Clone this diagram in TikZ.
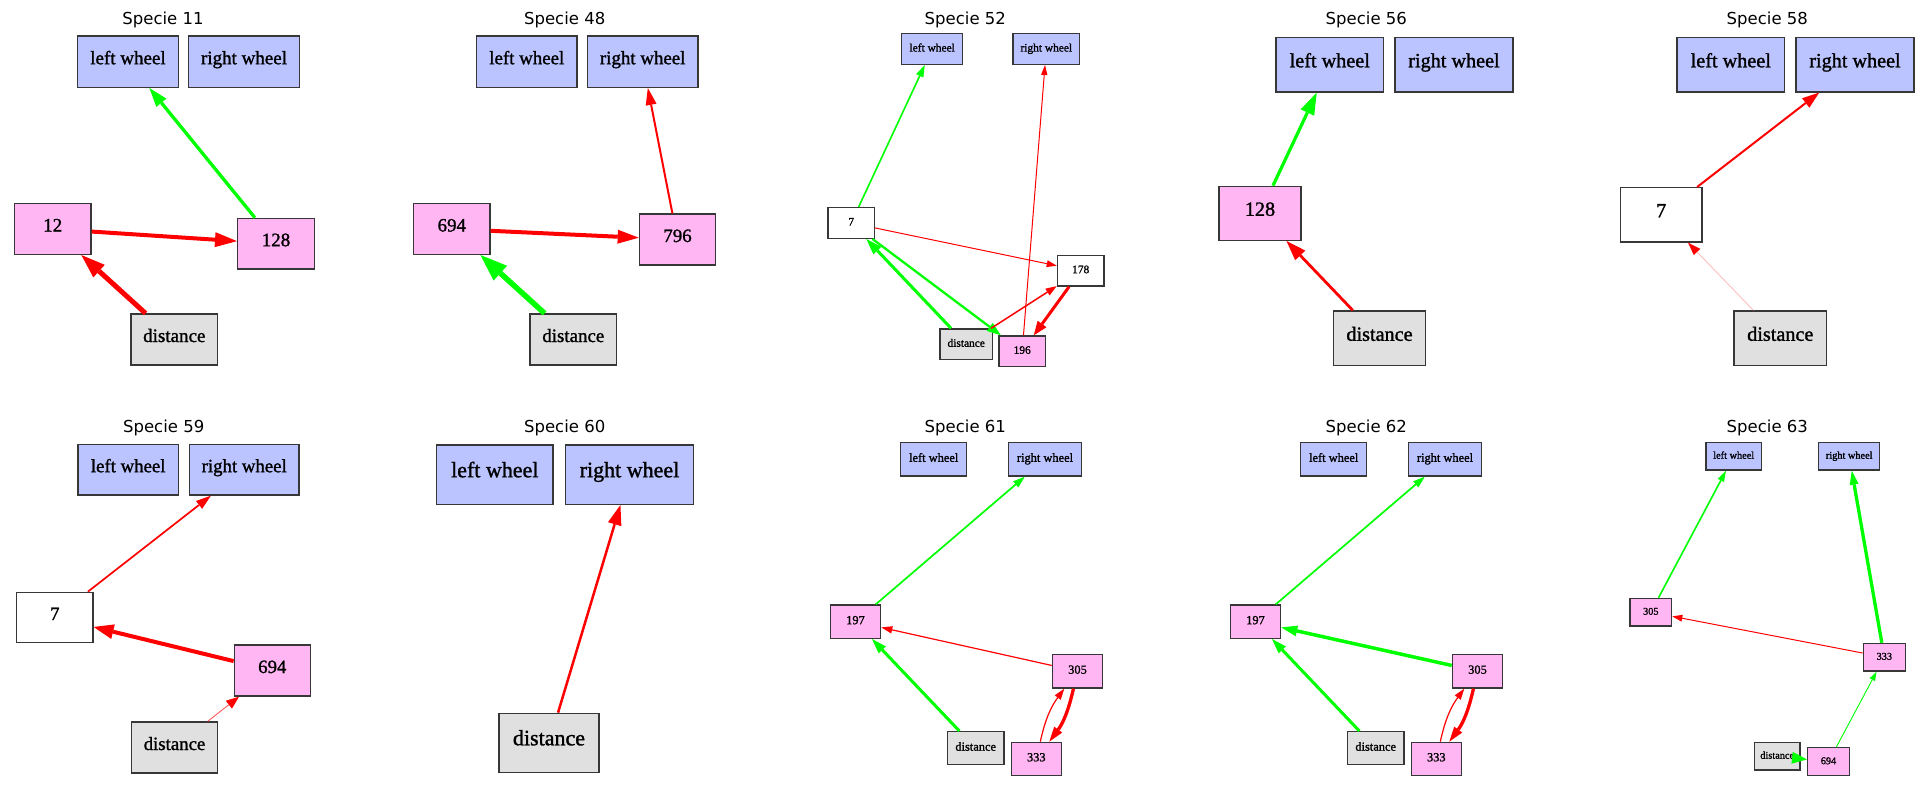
\documentclass[tikz,border=0pt]{standalone}
\usepackage{fontspec}
\setmainfont{Liberation Serif}
\newfontfamily\nodefont{Liberation Serif}[FakeBold=1.3]
\newfontfamily\titlefont{DejaVu Sans}
\usetikzlibrary{arrows.meta}
\definecolor{wheelfill}{RGB}{187,196,255}
\definecolor{hidfill}{RGB}{255,182,243}
\definecolor{sensfill}{RGB}{224,224,224}
\definecolor{boxline}{RGB}{55,55,55}
\begin{document}
\begin{tikzpicture}[x=1pt,y=-1pt,
  box/.style={draw=boxline, line width=1.3pt, inner sep=0pt, text height=0.7em, text depth=0.2em},
  wheel/.style={box, fill=wheelfill},
  hid/.style={box, fill=hidfill},
  wht/.style={box, fill=white},
  sens/.style={box, fill=sensfill},
  sz/.style 2 args={minimum width=#1pt, minimum height=#2pt},
  fs/.style={font=\nodefont\fontsize{#1}{#1}\selectfont},
  ttl/.style={font=\titlefont\fontsize{16.5}{16.5}\selectfont, inner sep=0pt, anchor=base},
  ar/.style n args={4}{draw=#1, line width=#2pt, -{Triangle[length=#3pt,width=#4pt,line width=0pt]}},
  palear/.style n args={4}{draw=#1, line width=#2pt, -{Triangle[length=#3pt,width=#4pt,line width=0pt,color=red]}},
]
\fill[white] (0,0) rectangle (1930,789);
\useasboundingbox (0,0) rectangle (1930,789);

% ---------- Specie 11 ----------
\node[ttl] (t11) at (163,24.3) {Specie 11};
\begin{scope}[fs=19]
\node[wheel, sz={100.7}{51.3}] (p11lw) at (128,61.7) {left wheel};
\node[wheel, sz={110.7}{51.3}] (p11rw) at (244,61.7) {right wheel};
\node[hid, sz={76.7}{50.7}] (p11n12) at (52.7,229) {12};
\node[hid, sz={76.7}{50.7}] (p11n128) at (276,243.7) {128};
\node[sens, sz={86.7}{51}] (p11d) at (174.3,339.5) {distance};
\end{scope}
\draw[ar={green}{3.3}{19}{13}] (p11n128) -- (p11lw);
\draw[ar={red}{4}{22}{15}] (p11n12) -- (p11n128);
\draw[ar={red}{5}{24}{17}] (p11d) -- (p11n12);

% ---------- Specie 48 ----------
\node[ttl] (t48) at (564.7,24.3) {Specie 48};
\begin{scope}[fs=18.9]
\node[wheel, sz={100.3}{51.3}] (p48lw) at (526.8,61.7) {left wheel};
\node[wheel, sz={110.7}{51.3}] (p48rw) at (642.7,61.7) {right wheel};
\node[hid, sz={76.3}{50.7}] (p48n694) at (451.8,229) {694};
\node[hid, sz={76.3}{51}] (p48n796) at (677.5,239.5) {796};
\node[sens, sz={86.7}{51}] (p48d) at (573.3,339.5) {distance};
\end{scope}
\draw[ar={red}{2}{17}{11}] (p48n796) -- (p48rw);
\draw[ar={red}{4}{21}{14}] (p48n694) -- (p48n796);
\draw[ar={green}{5.5}{27}{20}] (p48d) -- (p48n694);

% ---------- Specie 52 ----------
\node[ttl] (t52) at (965.3,24.3) {Specie 52};
\begin{scope}[fs=11.4]
\node[wheel, sz={61}{30.7}] (p52lw) at (932.2,49) {left wheel};
\node[wheel, sz={66.7}{30.7}] (p52rw) at (1046.3,49) {right wheel};
\node[wht, sz={46.3}{30.7}] (p52n7) at (851.2,223) {7};
\node[wht, sz={46.7}{30.7}] (p52n178) at (1080.7,270.7) {178};
\node[sens, sz={52.3}{30.7}] (p52d) at (966.2,344.3) {distance};
\node[hid, sz={46.3}{30.7}] (p52n196) at (1022.2,351.3) {196};
\end{scope}
\draw[ar={green}{1.6}{12}{8}] (p52n7) -- (p52lw);
\draw[ar={red}{1}{10}{6.5}] (p52n196) -- (p52rw);
\draw[ar={red}{1}{10}{7}] (p52n7) -- (p52n178);
\draw[ar={green}{3}{16}{11}] (p52d) -- (p52n7);
\draw[ar={green}{2.3}{14}{10}] (p52n7) -- (p52n196);
\draw[ar={red}{1.5}{11}{8}] (p52d) -- (p52n178);
\draw[ar={red}{3}{14}{11}] (p52n178) -- (p52n196);

% ---------- Specie 56 ----------
\node[ttl] (t56) at (1366.3,24.3) {Specie 56};
\begin{scope}[fs=20.2]
\node[wheel, sz={107.7}{54.3}] (p56lw) at (1329.8,64.8) {left wheel};
\node[wheel, sz={118}{54.3}] (p56rw) at (1454,64.8) {right wheel};
\node[hid, sz={82}{54}] (p56n128) at (1260,213.3) {128};
\node[sens, sz={92.3}{54.7}] (p56d) at (1379.5,338.3) {distance};
\end{scope}
\draw[ar={green}{3.2}{22}{15}] (p56n128) -- (p56lw);
\draw[ar={red}{2.8}{20}{14}] (p56d) -- (p56n128);

% ---------- Specie 58 ----------
\node[ttl] (t58) at (1767.3,24.3) {Specie 58};
\begin{scope}[fs=20.2]
\node[wheel, sz={107.7}{54.3}] (p58lw) at (1730.8,64.8) {left wheel};
\node[wheel, sz={118}{54.3}] (p58rw) at (1855,64.8) {right wheel};
\node[wht, sz={81.7}{54.3}] (p58n7) at (1661.2,214.8) {7};
\node[sens, sz={92.7}{54.7}] (p58d) at (1780.3,338.3) {distance};
\end{scope}
\draw[ar={red}{2}{17}{12}] (p58n7) -- (p58rw);
\draw[palear={red!30}{0.7}{13}{9}] (p58d) -- (p58n7);

% ---------- Specie 59 ----------
\node[ttl] (t59) at (163.7,432.7) {Specie 59};
\begin{scope}[fs=18.8]
\node[wheel, sz={100.3}{50.7}] (p59lw) at (128.2,469.7) {left wheel};
\node[wheel, sz={109.7}{50.7}] (p59rw) at (244.2,469.7) {right wheel};
\node[wht, sz={76.3}{50.3}] (p59n7) at (54.8,617.5) {7};
\node[hid, sz={76}{51}] (p59n694) at (272.3,670.5) {694};
\node[sens, sz={85.7}{51}] (p59d) at (174.5,747.5) {distance};
\end{scope}
\draw[ar={red}{1.7}{15}{10}] (p59n7) -- (p59rw);
\draw[ar={red}{4}{20}{15}] (p59n694) -- (p59n7);
\draw[palear={red!65}{0.9}{13}{10}] (p59d) -- (p59n694);

% ---------- Specie 60 ----------
\node[ttl] (t60) at (564.7,432.7) {Specie 60};
\begin{scope}[fs=22]
\node[wheel, sz={116.3}{59.3}] (p60lw) at (494.8,474.7) {left wheel};
\node[wheel, sz={127.7}{59.3}] (p60rw) at (629.5,474.7) {right wheel};
\node[sens, sz={100}{59}] (p60d) at (549,742.8) {distance};
\end{scope}
\draw[ar={red}{2.5}{20}{14}] (p60d) -- (p60rw);

% ---------- Specie 61 ----------
\node[ttl] (t61) at (965.3,432.7) {Specie 61};
\begin{scope}[fs=12.4]
\node[wheel, sz={66}{33.3}] (p61lw) at (933.7,459.3) {left wheel};
\node[wheel, sz={72.7}{33.3}] (p61rw) at (1045,459.3) {right wheel};
\node[hid, sz={50.3}{33.3}] (p61n197) at (855.5,621.7) {197};
\node[hid, sz={50.3}{33.7}] (p61n305) at (1077.5,671.2) {305};
\node[sens, sz={56.7}{33}] (p61d) at (975.7,748.2) {distance};
\node[hid, sz={50}{33}] (p61n333) at (1036.3,758.8) {333};
\end{scope}
\draw[ar={green}{1.7}{12}{8}] (p61n197) -- (p61rw);
\draw[ar={red}{1.2}{11}{7.5}] (p61n305) -- (p61n197);
\draw[ar={green}{3}{15}{10}] (p61d) -- (p61n197);
\draw[ar={red}{1.2}{11}{7.5}] (p61n333) to[bend left=12] (p61n305);
\draw[ar={red}{3.3}{15}{10}] (p61n305) to[bend left=12] (p61n333);

% ---------- Specie 62 ----------
\node[ttl] (t62) at (1366.3,432.7) {Specie 62};
\begin{scope}[fs=12.4]
\node[wheel, sz={66}{33.3}] (p62lw) at (1333.7,459.3) {left wheel};
\node[wheel, sz={72.7}{33.3}] (p62rw) at (1445,459.3) {right wheel};
\node[hid, sz={50.3}{33.3}] (p62n197) at (1255.5,621.7) {197};
\node[hid, sz={50.3}{33.7}] (p62n305) at (1477.5,671.2) {305};
\node[sens, sz={56.7}{33}] (p62d) at (1375.7,748.2) {distance};
\node[hid, sz={50}{33}] (p62n333) at (1436.3,758.8) {333};
\end{scope}
\draw[ar={green}{1.7}{12}{8}] (p62n197) -- (p62rw);
\draw[ar={green}{3.5}{16}{11}] (p62n305) -- (p62n197);
\draw[ar={green}{3}{15}{10}] (p62d) -- (p62n197);
\draw[ar={red}{1.2}{11}{7.5}] (p62n333) to[bend left=12] (p62n305);
\draw[ar={red}{3.3}{15}{10}] (p62n305) to[bend left=12] (p62n333);

% ---------- Specie 63 ----------
\node[ttl] (t63) at (1767.3,432.7) {Specie 63};
\begin{scope}[fs=10.3]
\node[wheel, sz={55.3}{27.7}] (p63lw) at (1733.7,456.2) {left wheel};
\node[wheel, sz={61}{27.7}] (p63rw) at (1849.2,456.2) {right wheel};
\node[hid, sz={41.7}{27.7}] (p63n305) at (1650.8,612.2) {305};
\node[hid, sz={42}{27.7}] (p63n333) at (1884.3,657.2) {333};
\node[sens, sz={45.5}{27.7}] (p63d) at (1777.2,756.2) {distance};
\node[hid, sz={41.7}{28}] (p63n694) at (1828.5,761.7) {694};
\end{scope}
\draw[ar={green}{1.6}{11}{7}] (p63n305) -- (p63lw);
\draw[ar={green}{3.3}{14}{9}] (p63n333) -- (p63rw);
\draw[ar={red}{1}{10}{7}] (p63n333) -- (p63n305);
\draw[ar={green}{0.9}{9}{6}] (p63n694) -- (p63n333);
\draw[ar={green}{3}{15}{12}] (p63d) -- (p63n694);
\end{tikzpicture}
\end{document}
